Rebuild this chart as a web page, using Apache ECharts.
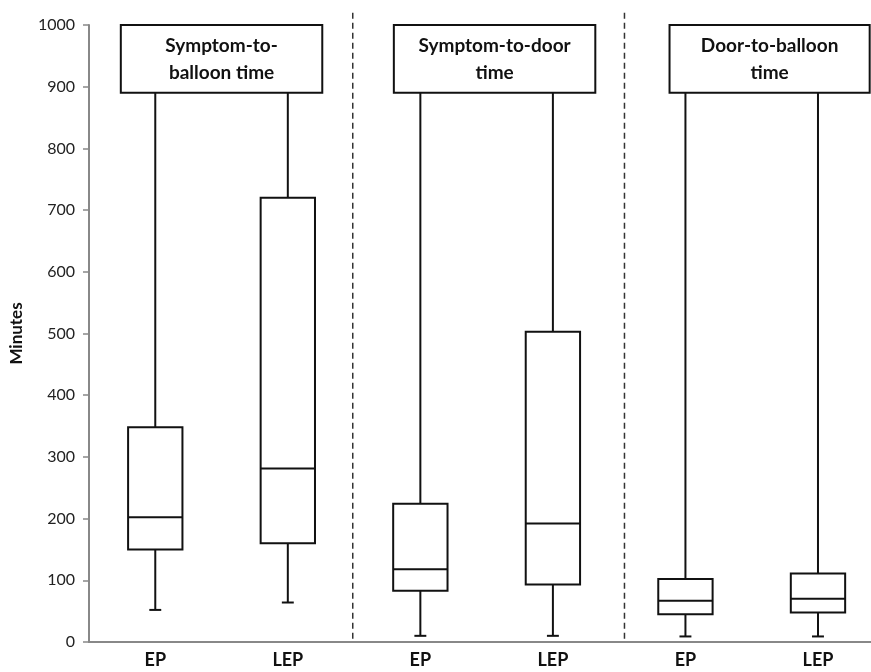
<!DOCTYPE html>
<html>
<head>
<meta charset="utf-8">
<script src="https://cdn.jsdelivr.net/npm/echarts@6/dist/echarts.min.js"></script>
<style>
  html, body { margin: 0; padding: 0; background: #fff; }
  #chart { width: 871px; height: 672px; }
</style>
</head>
<body>
<div id="chart"></div>
<script>
// categories along the x axis
const categories = ['EP', 'LEP', 'EP', 'LEP', 'EP', 'LEP'];
// box plot statistics, minutes
const lowerWhisker = [52, 64, 10, 10, 9, 9];
const q1 = [150, 160, 83, 93, 45, 48];
const median = [202, 281, 118, 192, 67, 70];
const q3 = [348, 720, 224, 503, 102, 111];
// upper whiskers run past the top of the frame (hidden by the title boxes)
const upperWhisker = [1000, 1000, 1000, 1000, 1000, 1000];
// panel titles
const groupTitles = ['Symptom-to-\nballoon time', 'Symptom-to-door\ntime', 'Door-to-balloon\ntime'];
const yTicks = [0, 100, 200, 300, 400, 500, 600, 700, 800, 900, 1000];

const FONT = 'Lato, "Open Sans", sans-serif';

// layout for title boxes / separators, in x-axis units (category i sits at i)
const titleSpans = [[-0.26, 1.26], [1.80, 3.32], [3.88, 5.39]];
const separators = [1.49, 3.54];

const boxData = categories.map((c, i) => [i, lowerWhisker[i], q1[i], median[i], q3[i], upperWhisker[i]]);

const chart = echarts.init(document.getElementById('chart'));

function renderBox(params, api) {
  const i = api.value(0);
  const band = api.size([1, 0])[0];
  const half = band * 0.205;
  const cap = band * 0.045;
  const pMin = api.coord([i, api.value(1)]);
  const pQ1 = api.coord([i, api.value(2)]);
  const pMed = api.coord([i, api.value(3)]);
  const pQ3 = api.coord([i, api.value(4)]);
  const pMax = api.coord([i, api.value(5)]);
  const x = pMed[0];
  const st = { stroke: '#111', lineWidth: 2, fill: null };
  return {
    type: 'group',
    children: [
      { type: 'line', shape: { x1: x, y1: pMin[1], x2: x, y2: pQ1[1] }, style: st },
      { type: 'line', shape: { x1: x - cap, y1: pMin[1], x2: x + cap, y2: pMin[1] }, style: st },
      { type: 'line', shape: { x1: x, y1: pQ3[1], x2: x, y2: pMax[1] }, style: st },
      { type: 'rect', shape: { x: x - half, y: pQ3[1], width: half * 2, height: pQ1[1] - pQ3[1] },
        style: { stroke: '#111', lineWidth: 2, fill: '#fff' } },
      { type: 'line', shape: { x1: x - half, y1: pMed[1], x2: x + half, y2: pMed[1] }, style: st }
    ]
  };
}

function renderTitle(params, api) {
  const span = titleSpans[params.dataIndex];
  const tl = api.coord([span[0], 1000]);
  const br = api.coord([span[1], 890]);
  return {
    type: 'group',
    children: [
      { type: 'rect', shape: { x: tl[0], y: tl[1], width: br[0] - tl[0], height: br[1] - tl[1] },
        style: { stroke: '#111', lineWidth: 2, fill: '#fff' } },
      { type: 'text', x: (tl[0] + br[0]) / 2, y: (tl[1] + br[1]) / 2,
        style: { text: groupTitles[params.dataIndex], fill: '#111', font: 'bold 19px ' + FONT,
          align: 'center', verticalAlign: 'middle', lineHeight: 27 } }
    ]
  };
}

function renderSep(params, api) {
  const x = api.value(0);
  const top = api.coord([x, 1020]);
  const bot = api.coord([x, 0]);
  return {
    type: 'line',
    shape: { x1: top[0], y1: top[1], x2: bot[0], y2: bot[1] },
    style: { stroke: '#333', lineWidth: 1.5, lineDash: [6, 4] }
  };
}

chart.setOption({
  animation: false,
  backgroundColor: '#fff',
  grid: { left: 88, right: 0, top: 25, bottom: 30, containLabel: false },
  // value axis so the last category band can run past the canvas edge, as in the source
  xAxis: {
    type: 'value',
    min: -0.5,
    max: 5.4,
    axisLine: { show: true, onZero: false, lineStyle: { color: '#888', width: 2 } },
    axisTick: { show: false },
    axisLabel: {
      color: '#111', fontFamily: FONT, fontWeight: 'bold', fontSize: 18, margin: 9,
      customValues: categories.map((c, i) => i),
      formatter: v => categories[Math.round(v)] || ''
    },
    splitLine: { show: false }
  },
  yAxis: {
    type: 'value',
    min: 0,
    max: 1000,
    interval: 100,
    name: 'Minutes',
    nameLocation: 'middle',
    nameGap: 64,
    nameTextStyle: { color: '#111', fontFamily: FONT, fontWeight: 'bold', fontSize: 17 },
    axisLine: { show: true, onZero: false, lineStyle: { color: '#888', width: 2 } },
    axisTick: { show: true, length: 6, lineStyle: { color: '#888', width: 1.5 } },
    axisLabel: { color: '#222', fontFamily: FONT, fontSize: 16, margin: 14,
      formatter: v => (yTicks.indexOf(v) >= 0 ? String(v) : '') },
    splitLine: { show: false }
  },
  series: [
    { type: 'custom', name: 'separators', data: separators.map(s => [s]),
      renderItem: renderSep, z: 1, clip: false },
    { type: 'custom', name: 'boxes', data: boxData, renderItem: renderBox, z: 2, clip: false,
      encode: { x: 0, y: [1, 2, 3, 4, 5] } },
    { type: 'custom', name: 'titles', data: groupTitles.map((t, i) => [i]),
      renderItem: renderTitle, z: 5, clip: false }
  ]
});
</script>
</body>
</html>
